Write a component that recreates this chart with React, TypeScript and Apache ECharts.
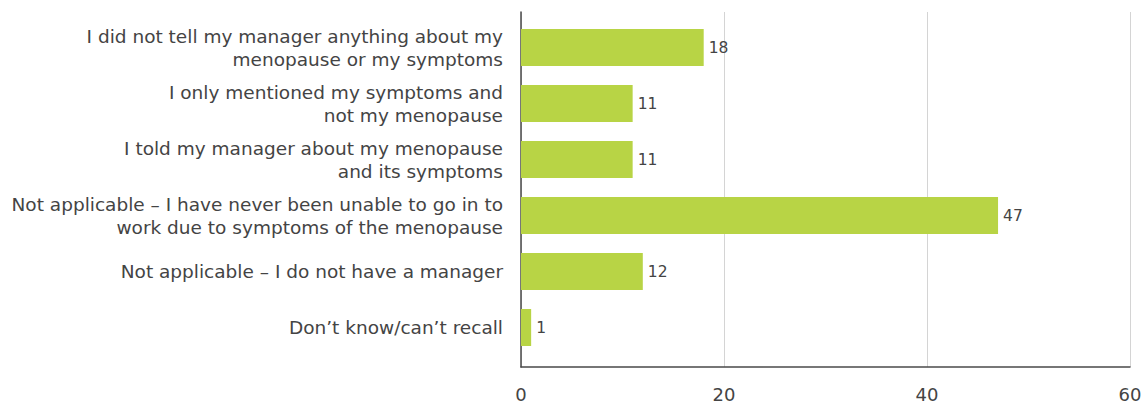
import React, { useEffect, useRef } from "react";
import * as echarts from "echarts";

const categories = [
  "I did not tell my manager anything about my\nmenopause or my symptoms",
  "I only mentioned my symptoms and\nnot my menopause",
  "I told my manager about my menopause\nand its symptoms",
  "Not applicable – I have never been unable to go in to\nwork due to symptoms of the menopause",
  "Not applicable – I do not have a manager",
  "Don’t know/can’t recall",
];
const values = [18, 11, 11, 47, 12, 1];
const xTicks = [0, 20, 40, 60];

const FONT = "'DejaVu Sans', sans-serif";
const TEXT = "#444444";

export default function App() {
  const ref = useRef<HTMLDivElement>(null);
  useEffect(() => {
    if (!ref.current) return;
    const chart = echarts.init(ref.current, undefined, { renderer: "svg" });
    chart.setOption({
      animation: false,
      grid: [
        { left: 521, right: 16, top: 12, bottom: 38 },
        { left: 521, right: 16, top: 19.5, bottom: 49.5 },
      ],
      xAxis: [
        {
          gridIndex: 0,
          type: "value",
          min: xTicks[0],
          max: xTicks[xTicks.length - 1],
          interval: 20,
          axisLine: { show: true, lineStyle: { color: "#4a4a4a", width: 1.5 } },
          axisTick: { show: false },
          splitLine: { show: true, lineStyle: { color: "#d4d4d4", width: 1 } },
          axisLabel: { color: TEXT, fontSize: 18, fontFamily: FONT, margin: 18 },
        },
        {
          gridIndex: 1,
          type: "value",
          min: xTicks[0],
          max: xTicks[xTicks.length - 1],
          show: false,
        },
      ],
      yAxis: [
        {
          gridIndex: 0,
          type: "value",
          min: 0,
          max: 1,
          axisLine: { show: true, lineStyle: { color: "#4a4a4a", width: 1.5 } },
          axisTick: { show: false },
          axisLabel: { show: false },
          splitLine: { show: false },
        },
        {
          gridIndex: 1,
          type: "category",
          data: categories,
          inverse: true,
          axisLine: { show: false },
          axisTick: { show: false },
          axisLabel: {
            color: TEXT,
            fontSize: 18.5,
            fontFamily: FONT,
            lineHeight: 23,
            align: "right",
            margin: 18,
          },
        },
      ],
      series: [
        {
          type: "bar",
          xAxisIndex: 1,
          yAxisIndex: 1,
          data: values,
          barWidth: 37,
          itemStyle: { color: "#b8d445" },
          label: {
            show: true,
            position: "right",
            distance: 5,
            color: TEXT,
            fontSize: 15.5,
            fontFamily: FONT,
          },
        },
      ],
    });
    return () => chart.dispose();
  }, []);
  return <div ref={ref} style={{ width: 1146, height: 405, position: "absolute", left: 0, top: 0 }} />;
}
